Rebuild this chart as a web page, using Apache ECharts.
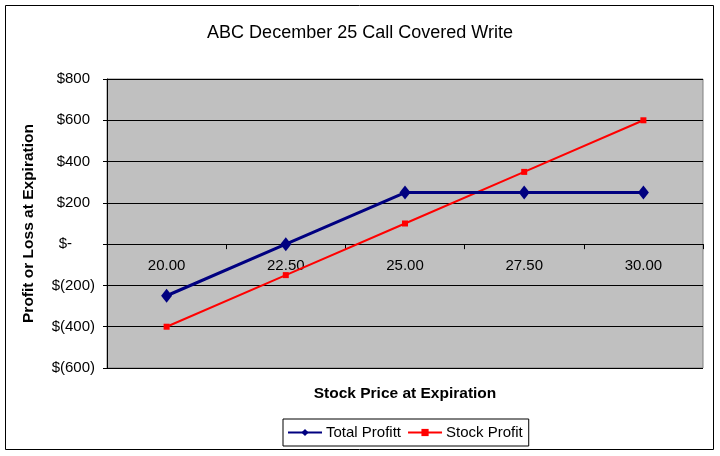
<!DOCTYPE html>
<html><head><meta charset="utf-8">
<script src="https://cdn.jsdelivr.net/npm/echarts@6/dist/echarts.min.js"></script>
<style>html,body{margin:0;padding:0;background:#fff}#c{width:720px;height:456px}</style>
</head><body><div id="c"></div>
<script>
var categories = ['20.00', '22.50', '25.00', '27.50', '30.00'];
var totalProfit = [-250, 0, 250, 250, 250];
var stockProfit = [-400, -150, 100, 350, 600];
var yTicks = [-600, -400, -200, 0, 200, 400, 600, 800];
var yTickLabels = ['$(600)', '$(400)', '$(200)', '$-', '$200', '$400', '$600', '$800'];

var chart = echarts.init(document.getElementById('c'));
var font = 'Arial, "Liberation Sans", sans-serif';
var labStyle = { fontFamily: font, fontSize: 15, color: '#000' };
chart.setOption({
  backgroundColor: '#fff',
  animation: false,
  title: {
    text: 'ABC December 25 Call Covered Write',
    left: 'center', top: 19,
    textStyle: { fontFamily: font, fontSize: 18, fontWeight: 'normal', color: '#000' }
  },
  graphic: [{
    type: 'rect', shape: { x: 5.5, y: 5.5, width: 708, height: 444 },
    style: { fill: null, stroke: '#000', lineWidth: 1 }, silent: true, z: 100
  }],
  legend: {
    bottom: 10, left: 283,
    itemWidth: 34, itemHeight: 9, itemGap: 6,
    borderColor: '#000', borderWidth: 1, padding: [6, 6, 6, 4],
    textStyle: { fontFamily: font, fontSize: 15, color: '#000', padding: [0, 0, 0, -1] },
    data: ['Total Profitt', 'Stock Profit']
  },
  grid: {
    left: 107, right: 17, top: 79, bottom: 88,
    outerBoundsMode: 'none', containLabel: false,
    show: true, backgroundColor: '#C0C0C0', borderColor: '#808080', borderWidth: 1
  },
  xAxis: {
    type: 'category', data: categories, boundaryGap: true,
    name: 'Stock Price at Expiration', nameLocation: 'middle', nameGap: 18,
    nameTextStyle: { fontFamily: font, fontSize: 15.5, fontWeight: 'bold', color: '#000' },
    axisLine: { onZero: true, lineStyle: { color: '#000', width: 1 } },
    axisTick: { show: true, length: 5, lineStyle: { color: '#000' } },
    axisLabel: { fontFamily: font, fontSize: 15, color: '#000', margin: -110 },
    splitLine: { show: false }
  },
  yAxis: {
    type: 'value', min: -600, max: 800, interval: 200,
    name: 'Profit or Loss at Expiration', nameLocation: 'middle', nameGap: 70,
    nameTextStyle: { fontFamily: font, fontSize: 15.5, fontWeight: 'bold', color: '#000' },
    axisLine: { show: true, lineStyle: { color: '#000', width: 1 } },
    axisTick: { show: true, length: 4, lineStyle: { color: '#000' } },
    axisLabel: {
      margin: 12,
      formatter: function (v) {
        var i = yTicks.indexOf(v);
        if (i < 0) return '';
        var key = v < 0 ? 'n' : (v === 0 ? 'z' : 'p');
        return '{' + key + '|' + yTickLabels[i] + '}';
      },
      rich: {
        n: labStyle,
        p: Object.assign({ padding: [0, 5, 0, 0] }, labStyle),
        z: Object.assign({ padding: [0, 23, 0, 0] }, labStyle)
      }
    },
    splitLine: { show: true, lineStyle: { color: '#000', width: 1 } }
  },
  series: [{
    name: 'Total Profitt', type: 'line', data: totalProfit,
    symbol: 'diamond', symbolSize: [11, 14], showAllSymbol: true,
    lineStyle: { color: '#000080', width: 3 },
    itemStyle: { color: '#000080' }, z: 3
  }, {
    name: 'Stock Profit', type: 'line', data: stockProfit,
    symbol: 'rect', symbolSize: 6, showAllSymbol: true,
    lineStyle: { color: '#FF0000', width: 2 },
    itemStyle: { color: '#FF0000' }, z: 2
  }]
});
</script></body></html>
